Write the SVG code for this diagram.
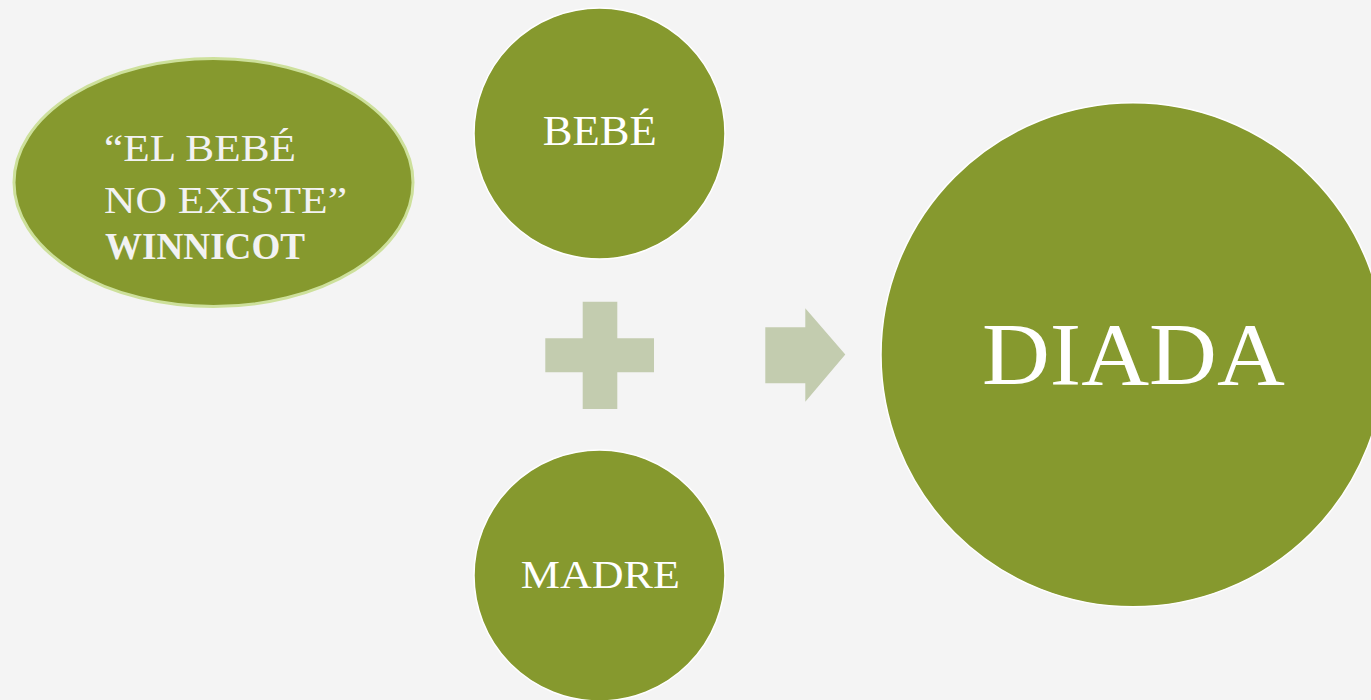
<svg xmlns="http://www.w3.org/2000/svg" width="1371" height="700" viewBox="0 0 1371 700">
  <style>
    .node { fill: #86992E; }
    .circ { stroke: #ffffff; stroke-width: 1.5; }
    .lbl { font-family: "Liberation Serif", "Times New Roman", serif; fill: #ffffff; }
    .sym { fill: #C3CCAF; }
  </style>
  <rect x="0" y="0" width="1371" height="700" fill="#F4F4F4"/>

  <g id="quote">
    <ellipse class="node" cx="213.5" cy="182.5" rx="199.5" ry="124" stroke="#CDE09B" stroke-width="3"/>
    <text class="lbl" fill="#F2F2F2" style="fill:#F2F2F2" x="104" y="161" font-size="38" textLength="192" lengthAdjust="spacingAndGlyphs">“EL BEBÉ</text>
    <text class="lbl" style="fill:#F2F2F2" x="104" y="213" font-size="38" textLength="243" lengthAdjust="spacingAndGlyphs">NO EXISTE”</text>
    <text class="lbl" style="fill:#F2F2F2" x="105" y="259" font-size="37" font-weight="bold" textLength="200" lengthAdjust="spacingAndGlyphs">WINNICOT</text>
  </g>

  <g id="bebe">
    <circle class="node circ" cx="599.5" cy="133.5" r="125.5"/>
    <text class="lbl" x="599.7" y="145" font-size="42" text-anchor="middle" textLength="114" lengthAdjust="spacingAndGlyphs">BEBÉ</text>
  </g>

  <g id="madre">
    <circle class="node circ" cx="599.5" cy="575.5" r="125.5"/>
    <text class="lbl" x="600.3" y="588" font-size="41" text-anchor="middle" textLength="159" lengthAdjust="spacingAndGlyphs">MADRE</text>
  </g>

  <g id="diada">
    <circle class="node circ" cx="1133" cy="354.8" r="252"/>
    <text class="lbl" x="1133.4" y="384" font-size="88" text-anchor="middle" textLength="303" lengthAdjust="spacingAndGlyphs">DIADA</text>
  </g>

  <g id="connectors">
    <path class="sym" d="M582.7,301.7 H617.3 V338.3 H654 V372.3 H617.3 V409 H582.7 V372.3 H545.3 V338.3 H582.7 Z"/>
    <path class="sym" d="M765.3,327.3 H805.3 V308.3 L845.3,354.5 L805.3,401.7 V383.3 H765.3 Z"/>
  </g>
</svg>
